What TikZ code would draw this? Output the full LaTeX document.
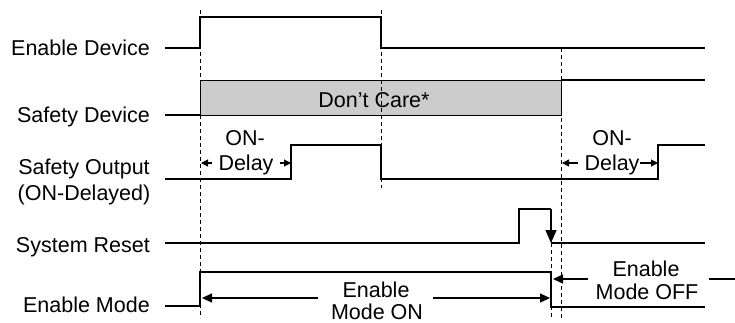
\documentclass[tikz,border=0pt]{standalone}
\usepackage{fontspec}
\setmainfont{Liberation Sans}
\usetikzlibrary{arrows.meta}
\definecolor{caregray}{RGB}{204,204,204}
\begin{document}
\begin{tikzpicture}[x=1pt,y=-1pt,
  txt/.style={font=\fontsize{21.5}{22}\selectfont, inner sep=0pt},
  sig/.style={line width=1.3pt, line join=miter},
  guide/.style={line width=1pt, dash pattern=on 4pt off 3pt},
  smallarrow/.style={line width=1.1pt, -{Triangle[length=7pt,width=7pt]}},
  bigarrow/.style={line width=1.3pt, -{Triangle[length=10pt,width=9pt]}},
  resetarrow/.style={line width=1.3pt, -{Triangle[length=13pt,width=11pt]}},
]
\useasboundingbox (0,0) rectangle (735,322);

% row labels
\node[txt, anchor=base east] (lED) at (150,55) {Enable Device};
\node[txt, anchor=base east] (lSD) at (150,122) {Safety Device};
\node[txt, anchor=base] (lSO) at (84,174) {Safety Output};
\node[txt, anchor=base] (lSO2) at (84,200) {(ON-Delayed)};
\node[txt, anchor=base east] (lSR) at (150,252) {System Reset};
\node[txt, anchor=base east] (lEM) at (150,312) {Enable Mode};

% don't care region
\node[draw, fill=caregray, line width=1.3pt, minimum width=361pt, minimum height=35pt,
      inner sep=0pt, anchor=north west] (care) at (200,80) {};
\node[txt, anchor=base] (careT) at (374,107) {Don’t Care*};

% guide lines
\coordinate (g1t) at (200,10);  \coordinate (g1b) at (200,318);
\coordinate (g2t) at (381,10);  \coordinate (g2b) at (381,188);
\coordinate (g3t) at (561,48);  \coordinate (g3b) at (561,318);
\coordinate (g4t) at (551,243); \coordinate (g4b) at (551,318);
\draw[guide] (g1t) -- (g1b);
\draw[guide] (g2t) -- (g2b);
\draw[guide] (g3t) -- (g3b);
\draw[guide] (g4t) -- (g4b);

% Enable Device
\draw[sig] (165,48) -- (200,48) -- (200,17) -- (381,17) -- (381,48) -- (705,48);
% Safety Device
\draw[sig] (165,115) -- (200,115);
\draw[sig] (561,80) -- (705,80);
% Safety Output
\draw[sig] (165,179) -- (291,179) -- (291,145) -- (381,145) -- (381,179)
           -- (658,179) -- (658,145) -- (705,145);
% System Reset
\coordinate (rTop) at (551,209);
\coordinate (rTip) at (551,243);
\draw[sig] (165,243) -- (519,243) -- (519,209) -- (rTop);
\draw[resetarrow] (rTop) -- (rTip);
\draw[sig] (rTip) -- (705,243);
% Enable Mode
\draw[sig] (165,306) -- (200,306) -- (200,272) -- (551,272) -- (551,307) -- (705,307);

% ON-Delay 1
\node[txt, anchor=base] (on1) at (245,145) {ON-};
\node[txt, anchor=base] (dl1) at (246,170) {Delay};
\coordinate (d1lt) at (212,163); \coordinate (d1lh) at (201,163);
\coordinate (d1rt) at (280,163); \coordinate (d1rh) at (291,163);
\draw[smallarrow] (d1lt) -- (d1lh);
\draw[smallarrow] (d1rt) -- (d1rh);

% ON-Delay 2
\node[txt, anchor=base] (on2) at (612,145) {ON-};
\node[txt, anchor=base] (dl2) at (612,170) {Delay};
\coordinate (d2lt) at (578,163); \coordinate (d2lh) at (562,163);
\coordinate (d2rt) at (640,163); \coordinate (d2rh) at (658,163);
\draw[smallarrow] (d2lt) -- (d2lh);
\draw[smallarrow] (d2rt) -- (d2rh);

% Enable Mode ON
\node[txt, anchor=base] (mon1) at (376,297) {Enable};
\node[txt, anchor=base] (mon2) at (377,319) {Mode ON};
\coordinate (monLt) at (318,298); \coordinate (monLh) at (202,298);
\coordinate (monRt) at (433,298); \coordinate (monRh) at (550,298);
\draw[bigarrow] (monLt) -- (monLh);
\draw[bigarrow] (monRt) -- (monRh);

% Enable Mode OFF
\node[txt, anchor=base] (moff1) at (646,276) {Enable};
\node[txt, anchor=base] (moff2) at (647,299) {Mode OFF};
\coordinate (moffLt) at (588,279); \coordinate (moffLh) at (553,279);
\coordinate (moffRt) at (709,279); \coordinate (moffRe) at (735,279);
\draw[bigarrow] (moffLt) -- (moffLh);
\draw[sig] (moffRt) -- (moffRe);
\end{tikzpicture}
\end{document}
